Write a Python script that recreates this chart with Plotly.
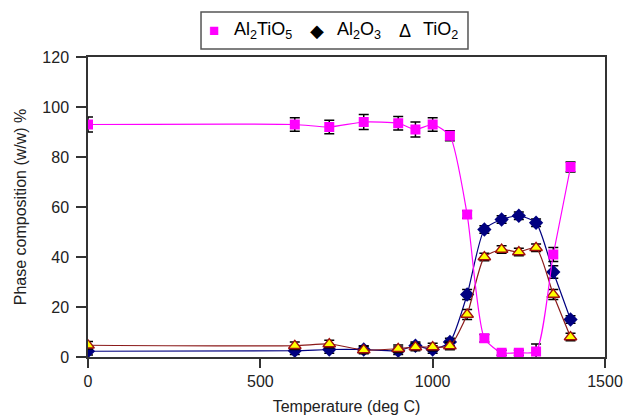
import plotly.graph_objects as go

# Heat-treatment temperature (deg C)
temperature = [0, 600, 700, 800, 900, 950, 1000, 1050, 1100, 1150, 1200, 1250, 1300, 1350, 1400]

# Phase composition (w/w %) and standard deviations
al2tio5 = [93, 93, 92, 94, 93.5, 91, 93, 88.5, 57, 7.5, 1.7, 1.7, 2.2, 41, 76]
al2tio5_err = [3, 2.7, 2.7, 3, 2.7, 3, 2.7, 2, 1.5, 1.5, 1, 1, 3, 2.8, 2]

al2o3 = [2.3, 2.5, 3, 3, 2.5, 4.5, 3, 6, 25, 51, 55, 56.5, 53.7, 34, 15]
al2o3_err = [1.5, 1.5, 1.5, 1.5, 1.5, 1.5, 1.5, 1.5, 2, 1.5, 1.5, 1.5, 1.5, 2.5, 1.5]

tio2 = [4.7, 4.5, 5.2, 2.8, 3.3, 4, 4, 4.4, 17, 40, 43, 42, 43.7, 25, 8]
tio2_err = [1.5, 1.5, 1.5, 1.5, 1.5, 1.5, 1.5, 1.5, 2, 1.5, 1.5, 1.5, 1.5, 2, 1.5]

x_ticks = [0, 500, 1000, 1500]
y_ticks = [0, 20, 40, 60, 80, 100, 120]

FONT = "Liberation Sans, Arial, sans-serif"


def err(values):
    return dict(type="data", array=values, visible=True, color="black",
                thickness=1.5, width=5)


fig = go.Figure()

fig.add_trace(go.Scatter(
    x=temperature, y=al2o3, mode="lines+markers", name="Al2O3",
    line=dict(color="#000080", width=1.2, shape="spline", smoothing=0.6),
    marker=dict(symbol="diamond", size=11, color="#000080"),
    error_y=err(al2o3_err),
))
fig.add_trace(go.Scatter(
    x=temperature, y=tio2, mode="lines+markers", name="TiO2",
    line=dict(color="#8B1A1A", width=1.2, shape="spline", smoothing=0.6),
    marker=dict(symbol="triangle-up", size=11, color="#FFFF00",
                line=dict(color="#A01010", width=1.3)),
    error_y=err(tio2_err),
))
fig.add_trace(go.Scatter(
    x=temperature, y=al2tio5, mode="lines+markers", name="Al2TiO5",
    line=dict(color="#FF00FF", width=1.2, shape="spline", smoothing=0.6),
    marker=dict(symbol="square", size=10, color="#FF00FF"),
    error_y=err(al2tio5_err),
))

# Legend box drawn as a framed row of text above the plot
fig.add_shape(type="rect", xref="paper", yref="paper",
              x0=0.2186, x1=0.735, y0=1.027, y1=1.15,
              line=dict(color="#555555", width=1.5), fillcolor="white")
legend_items = [
    (0.243, "<span style='color:#FF00FF;font-size:17px'>■</span>"),
    (0.339, "Al<sub>2</sub>TiO<sub>5</sub>"),
    (0.443, "<span style='font-size:18px'>◆</span>"),
    (0.524, "Al<sub>2</sub>O<sub>3</sub>"),
    (0.613, "Δ"),
    (0.681, "TiO<sub>2</sub>"),
]
for xpos, txt in legend_items:
    fig.add_annotation(xref="paper", yref="paper", x=xpos, y=1.088,
                       text=txt, showarrow=False,
                       font=dict(family=FONT, size=18, color="black"),
                       xanchor="center", yanchor="middle")

fig.update_layout(
    width=626, height=417,
    margin=dict(l=88, r=21, t=57, b=60),
    paper_bgcolor="white", plot_bgcolor="white",
    showlegend=False,
    font=dict(family=FONT, size=16, color="#222222"),
)
fig.update_xaxes(
    range=[0, 1500], tickvals=x_ticks, showgrid=False, zeroline=False,
    showline=True, linecolor="#333333", linewidth=1.5, mirror=True,
    ticks="outside", ticklen=9, tickcolor="#333333", tickwidth=1.5,
    automargin=False,
    title=dict(text="Temperature (deg C)", standoff=12, font=dict(size=16)),
)
fig.update_yaxes(
    range=[0, 120], tickvals=y_ticks, showgrid=False, zeroline=False,
    showline=True, linecolor="#333333", linewidth=1.5, mirror=True,
    ticks="outside", ticklen=10, tickcolor="#333333", tickwidth=1.5,
    ticklabelstandoff=4, automargin=False,
    title=dict(text="Phase composition (w/w) %", standoff=12, font=dict(size=16)),
)

fig.write_html("out.html")
